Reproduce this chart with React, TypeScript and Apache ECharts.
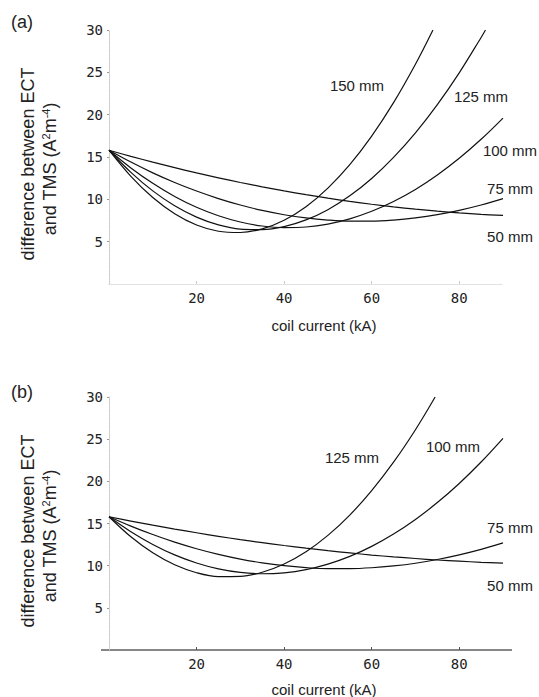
import React, { useEffect, useRef } from "react";
import * as echarts from "echarts";

// coil current (kA) sample points
const currentKA = [0, 5, 10, 15, 20, 25, 30, 35, 40, 45, 50, 55, 60, 65, 70, 75, 80, 85, 90];

// Panel (a)
const a50 = [15.8, 15.08, 14.39, 13.74, 13.12, 12.54, 11.99, 11.48, 11.0, 10.55, 10.14, 9.76, 9.42, 9.11, 8.84, 8.6, 8.4, 8.23, 8.1];
const a75 = [15.8, 14.4, 13.13, 11.99, 10.98, 10.09, 9.33, 8.69, 8.18, 7.8, 7.55, 7.42, 7.42, 7.55, 7.81, 8.19, 8.7, 9.33, 10.09];
const a100 = [15.8, 13.71, 11.89, 10.34, 9.06, 8.06, 7.32, 6.85, 6.66, 6.73, 7.08, 7.7, 8.59, 9.75, 11.17, 12.88, 14.85, 17.09, 19.6];
const a125X = [0, 5, 10, 15, 20, 25, 30, 35, 40, 45, 50, 55, 60, 65, 70, 75, 80, 85, 86];
const a125 = [15.8, 13.19, 11.0, 9.24, 7.9, 6.98, 6.49, 6.43, 6.78, 7.57, 8.78, 10.41, 12.46, 14.95, 17.85, 21.18, 24.94, 29.12, 30.0];
const a150X = [0, 5, 10, 15, 20, 25, 30, 35, 40, 45, 50, 55, 60, 65, 70, 74];
const a150 = [15.8, 12.71, 10.21, 8.3, 6.97, 6.23, 6.08, 6.51, 7.53, 9.13, 11.33, 14.1, 17.47, 21.42, 25.96, 30.0];

// Panel (b)
const b50 = [15.8, 15.29, 14.8, 14.34, 13.9, 13.48, 13.09, 12.73, 12.39, 12.07, 11.78, 11.51, 11.26, 11.04, 10.85, 10.67, 10.53, 10.4, 10.31];
const b75 = [15.8, 14.69, 13.69, 12.79, 12.01, 11.34, 10.78, 10.34, 10.0, 9.77, 9.65, 9.65, 9.75, 9.97, 10.29, 10.73, 11.28, 11.93, 12.7];
const b100 = [15.8, 14.03, 12.52, 11.28, 10.32, 9.62, 9.2, 9.04, 9.15, 9.53, 10.18, 11.1, 12.29, 13.75, 15.48, 17.48, 19.75, 22.29, 25.1];
const b125X = [0, 5, 10, 15, 20, 25, 30, 35, 40, 45, 50, 55, 60, 65, 70, 74.5];
const b125 = [15.8, 13.42, 11.52, 10.1, 9.16, 8.7, 8.72, 9.22, 10.2, 11.65, 13.59, 16.0, 18.9, 22.27, 26.12, 30.0];

const xTickLabels = [20, 40, 60, 80];
const yTickLabels = [5, 10, 15, 20, 25, 30];

const pair = (xs: number[], ys: number[]) => xs.map((x, i) => [x, ys[i]]);

const MONO = "DejaVu Sans Mono";
const SANS = "Liberation Sans";

function lineSeries(name: string, data: number[][], idx: number) {
  return {
    name,
    type: "line",
    xAxisIndex: idx,
    yAxisIndex: idx,
    data,
    smooth: 0.35,
    showSymbol: false,
    symbol: "none",
    lineStyle: { color: "#111", width: 1.2 },
    silent: true,
  };
}

function makeX(idx: number, solid: boolean) {
  return {
    type: "value",
    gridIndex: idx,
    min: 0,
    max: 90,
    interval: 20,
    splitLine: { show: false },
    axisLine: {
      show: !solid,
      lineStyle: { color: "#dcdcdc", type: "dotted", width: 1 },
    },
    axisTick: {
      show: true,
      inside: true,
      length: 3,
      customValues: xTickLabels,
      lineStyle: { color: solid ? "#555" : "#ccc", width: 1 },
    },
    axisLabel: {
      customValues: xTickLabels,
      fontFamily: MONO,
      fontSize: 14,
      color: "#222",
      margin: 7,
    },
  };
}

function makeY(idx: number) {
  return {
    type: "value",
    gridIndex: idx,
    min: 0,
    max: 30,
    interval: 5,
    splitLine: { show: false },
    axisLine: {
      show: true,
      lineStyle: { color: "#c4c4c4", type: "dotted", width: 1 },
    },
    axisTick: {
      show: true,
      length: 2,
      customValues: yTickLabels,
      lineStyle: { color: "#999", width: 1 },
    },
    axisLabel: {
      customValues: yTickLabels,
      fontFamily: MONO,
      fontSize: 14,
      color: "#222",
      margin: 6,
    },
  };
}

function yTitle(cy: number) {
  return [
    {
      type: "text",
      x: 28,
      y: cy - 2,
      rotation: Math.PI / 2,
      style: {
        text: "difference between ECT",
        fontFamily: SANS,
        fontSize: 18,
        fill: "#222",
        align: "center",
        verticalAlign: "middle",
      },
    },
    {
      type: "text",
      x: 50,
      y: cy + 3,
      rotation: Math.PI / 2,
      style: {
        text: "and TMS (A{sup|2}m{sup|-4})",
        fontFamily: SANS,
        fontSize: 18,
        fill: "#222",
        align: "center",
        verticalAlign: "middle",
        rich: {
          sup: { fontSize: 11, fontFamily: SANS, fill: "#222", verticalAlign: "top", padding: [0, 0, 8, 0] },
        },
      },
    },
  ];
}

function label(text: string, x: number, y: number) {
  return {
    type: "text",
    x,
    y,
    style: {
      text,
      fontFamily: SANS,
      fontSize: 15,
      fill: "#222",
      align: "center",
      verticalAlign: "middle",
    },
  };
}

function App() {
  const ref = useRef<HTMLDivElement>(null);
  useEffect(() => {
    const chart = echarts.init(ref.current, null, { renderer: "svg" });
    const option = {
      animation: false,
      backgroundColor: "#fff",
      grid: [
        { left: 109, top: 30, width: 394, height: 254 },
        { left: 109, top: 397, width: 394, height: 253 },
      ],
      xAxis: [makeX(0, false), makeX(1, true)],
      yAxis: [makeY(0), makeY(1)],
      series: [
        lineSeries("a 50 mm", pair(currentKA, a50), 0),
        lineSeries("a 75 mm", pair(currentKA, a75), 0),
        lineSeries("a 100 mm", pair(currentKA, a100), 0),
        lineSeries("a 125 mm", pair(a125X, a125), 0),
        lineSeries("a 150 mm", pair(a150X, a150), 0),
        lineSeries("b 50 mm", pair(currentKA, b50), 1),
        lineSeries("b 75 mm", pair(currentKA, b75), 1),
        lineSeries("b 100 mm", pair(currentKA, b100), 1),
        lineSeries("b 125 mm", pair(b125X, b125), 1),
      ],
      graphic: [
        { type: "text", x: 22, y: 22, style: { text: "(a)", fontFamily: SANS, fontSize: 18, fill: "#222", align: "center", verticalAlign: "middle" } },
        { type: "text", x: 22, y: 392, style: { text: "(b)", fontFamily: SANS, fontSize: 18, fill: "#222", align: "center", verticalAlign: "middle" } },
        ...yTitle(166),
        ...yTitle(533),
        { type: "text", x: 324, y: 325, style: { text: "coil current (kA)", fontFamily: SANS, fontSize: 15, fill: "#222", align: "center", verticalAlign: "middle" } },
        { type: "text", x: 324, y: 689, style: { text: "coil current (kA)", fontFamily: SANS, fontSize: 15, fill: "#222", align: "center", verticalAlign: "middle" } },
        { type: "line", shape: { x1: 101, y1: 650, x2: 512, y2: 650 }, style: { stroke: "#111", lineWidth: 1.2 } },
        label("150 mm", 357, 85),
        label("125 mm", 481, 96),
        label("100 mm", 510, 150),
        label("75 mm", 510, 188),
        label("50 mm", 510, 236),
        label("125 mm", 352, 457),
        label("100 mm", 453, 446),
        label("75 mm", 510, 527),
        label("50 mm", 510, 585),
      ],
    };
    chart.setOption(option as any);
    return () => chart.dispose();
  }, []);
  return (
    <div
      ref={ref}
      style={{ position: "absolute", left: 0, top: 0, width: 539, height: 697 }}
    />
  );
}

export default App;
